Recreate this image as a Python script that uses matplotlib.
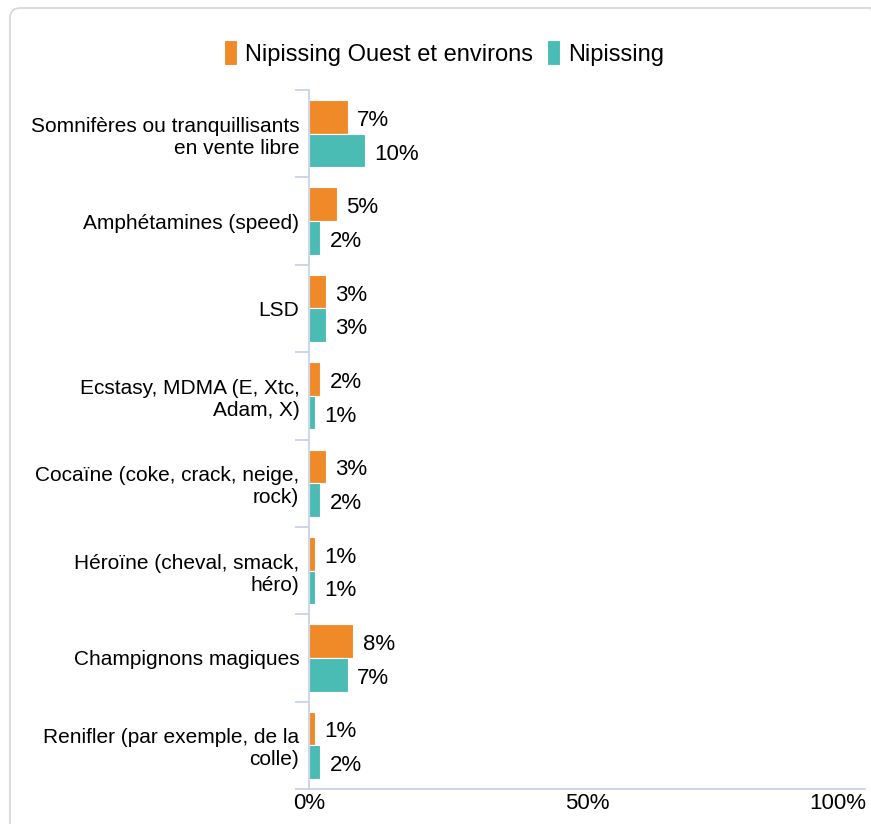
import numpy as np
import matplotlib.pyplot as plt
from matplotlib.patches import FancyBboxPatch
from matplotlib.transforms import ScaledTranslation

plt.rcParams['font.family'] = ['Liberation Sans', 'DejaVu Sans']

# Données
categories = [
    "Somnifères ou tranquillisants\nen vente libre",
    "Amphétamines (speed)",
    "LSD",
    "Ecstasy, MDMA (E, Xtc,\nAdam, X)",
    "Cocaïne (coke, crack, neige,\nrock)",
    "Héroïne (cheval, smack,\nhéro)",
    "Champignons magiques",
    "Renifler (par exemple, de la\ncolle)",
]
ouest = [7, 5, 3, 2, 3, 1, 8, 1]
nipissing = [10, 2, 3, 1, 2, 1, 7, 2]
series_names = ["Nipissing Ouest et environs", "Nipissing"]
colors = ["#F08A28", "#4BBCB4"]

fig = plt.figure(figsize=(8.71, 8.24), dpi=100)

# Cadre arrondi (ouvert en bas et à droite)
fig.patches.append(FancyBboxPatch((10 / 871, -0.05), 1.0, 1.05 - 8 / 824,
                                  boxstyle="round,pad=0,rounding_size=0.012",
                                  transform=fig.transFigure, facecolor="none",
                                  edgecolor="#d6d6d6", linewidth=1.2))

ax = fig.add_axes([309 / 871, 1 - 789 / 824, 556 / 871, 699 / 824])

n = len(categories)
y = np.arange(n)
h = 0.385
ax.barh(y - h / 2, ouest, height=h, color=colors[0], edgecolor="white", linewidth=0.8,
        label=series_names[0])
ax.barh(y + h / 2, nipissing, height=h, color=colors[1], edgecolor="white", linewidth=0.8,
        label=series_names[1])

for i in range(n):
    ax.text(ouest[i] + 1.7, y[i] - h / 2 + 0.04, f"{ouest[i]}%", va="center", ha="left", fontsize=16)
    ax.text(nipissing[i] + 1.7, y[i] + h / 2 + 0.04, f"{nipissing[i]}%", va="center", ha="left", fontsize=16)

ax.set_ylim(n - 0.5, -0.5)
ax.set_xlim(0, 100)
ax.set_yticks(y)
ax.set_yticklabels(categories, fontsize=15)
ax.set_yticks(np.arange(-0.5, n, 1), minor=True)
ax.tick_params(axis="y", which="major", length=0, pad=7)
ax.tick_params(axis="y", which="minor", length=10, color="#c5d0e3", width=1.2)
ax.set_xticks([0, 50, 100])
ax.set_xticklabels(["0%", "50%", "100%"], fontsize=16)
ax.tick_params(axis="x", length=0, pad=3)

# dernier libellé aligné à droite pour rester dans le cadre
last = ax.get_xticklabels()[-1]
last.set_horizontalalignment("right")
last.set_transform(last.get_transform() + ScaledTranslation(1 / 100, 0, fig.dpi_scale_trans))

for s in ["top", "right"]:
    ax.spines[s].set_visible(False)
ax.spines["left"].set_color("#c5d0e3")
ax.spines["bottom"].set_color("#c5d0e3")
ax.spines["left"].set_linewidth(1.2)
ax.spines["bottom"].set_linewidth(1.2)

fig.legend(loc="center", bbox_to_anchor=(444 / 871, 1 - 53 / 824), ncol=2, frameon=False,
           fontsize=17, handlelength=0.55, handleheight=1.2, handletextpad=0.35,
           columnspacing=0.6)

fig.savefig("out.png", dpi=100)
